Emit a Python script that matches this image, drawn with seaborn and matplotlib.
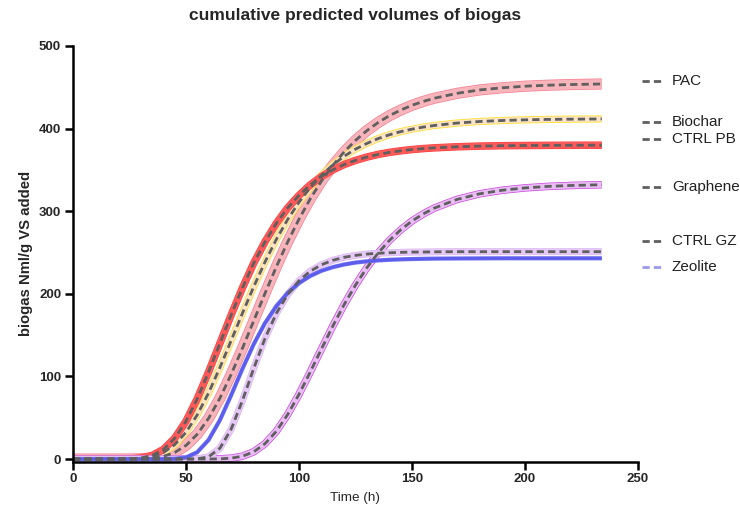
import matplotlib
matplotlib.use("Agg")
import matplotlib.pyplot as plt
from matplotlib.lines import Line2D
import numpy as np
import pandas as pd
import seaborn as sns

# ---------------- data ----------------
time_h = [0, 5, 10, 15, 20, 25, 30, 35, 40, 45, 50, 55, 60, 65, 70, 75, 80, 85, 90, 95,
          100, 105, 110, 115, 120, 125, 130, 135, 140, 145, 150, 155, 160,
          170, 180, 190, 200, 210, 220, 230, 234]

pac = [0, 0, 0, 0, 0.01, 0.05, 0.3, 1.1, 3.2, 7.9, 16.4, 30.0, 49.2, 73.6, 102.5, 134.1, 167.4, 200.7, 232.8, 262.8,
       290.3, 315.0, 336.7, 355.6, 371.8, 385.7, 397.4, 407.3, 415.6, 422.4, 428.2, 432.9, 436.8,
       442.7, 446.8, 449.4, 451.3, 452.5, 453.3, 453.8, 454.0]

biochar = [0, 0, 0, 0, 0.03, 0.2, 0.9, 3.0, 7.9, 17.3, 32.3, 53.5, 80.0, 110.6, 143.4, 176.6, 208.7, 238.7, 266.0, 290.0,
           310.8, 328.6, 343.6, 356.1, 366.5, 375.1, 382.0, 387.9, 392.5, 396.3, 399.3, 401.8, 403.8,
           406.7, 408.6, 409.8, 410.6, 411.1, 411.4, 411.6, 411.7]

ctrl_pb = [0, 0, 0, 0, 0.03, 0.23, 1.2, 4.3, 11.6, 25.1, 45.7, 73.1, 105.3, 139.8, 174.4, 207.2, 237.2, 263.0, 285.4, 304.0,
           319.2, 331.9, 342.0, 350.0, 356.5, 361.5, 365.5, 368.7, 371.2, 373.1, 374.6, 375.8, 376.7,
           378.0, 378.8, 379.3, 379.5, 379.7, 379.8, 379.9, 379.9]

graphene = [0, 0, 0, 0, 0, 0, 0, 0, 0, 0, 0, 0, 0.04, 0.24, 1.06, 3.4, 8.8, 18.6, 33.6, 53.9,
            78.3, 105.4, 133.5, 161.1, 187.0, 210.5, 231.4, 249.3, 264.6, 277.4, 288.1, 296.7, 303.9,
            314.3, 321.1, 325.4, 328.2, 330.0, 331.1, 331.8, 332.0]

ctrl_gz = [0, 0, 0, 0, 0, 0, 0, 0, 0, 0, 0.01, 0.25, 2.7, 13.0, 36.2, 70.8, 109.8, 146.2, 176.3, 199.2,
           215.8, 227.4, 235.3, 240.6, 244.2, 246.5, 248.1, 249.1, 249.7, 250.2, 250.5, 250.6, 250.8,
           251.0, 251.0, 251.0, 251.0, 251.0, 251.0, 251.0, 251.0]

zeolite = [0, 0, 0, 0, 0, 0, 0, 0, 0.01, 0.24, 1.9, 8.3, 23.1, 47.0, 77.3, 109.3, 139.1, 164.7, 185.2, 201.1,
           212.9, 221.6, 227.9, 232.3, 235.5, 237.8, 239.3, 240.4, 241.2, 241.7, 242.1, 242.4, 242.6,
           242.8, 242.9, 243.0, 243.0, 243.0, 243.0, 243.0, 243.0]

series_names = ["PAC", "Biochar", "CTRL PB", "Graphene", "CTRL GZ", "Zeolite"]
series_values = [pac, biochar, ctrl_pb, graphene, ctrl_gz, zeolite]

x_ticks = [0, 50, 100, 150, 200, 250]
y_ticks = [0, 100, 200, 300, 400, 500]

# ---------------- styles ----------------
# (edge colour, edge width, inner colour, inner width)
band_style = {
    "PAC":      ("#f57f92", 8.0, "#f8b4bb", 7.0),
    "Biochar":  ("#ffe23a", 5.2, "#fbe3c6", 4.0),
    "CTRL PB":  ("#ff3b3b", 5.4, "#ff5a5a", 4.6),
    "Graphene": ("#cc44dd", 5.4, "#e9bdf4", 4.4),
    "CTRL GZ":  ("#dcb6f0", 5.0, "#e6c8f6", 4.2),
    "Zeolite":  ("#7474ee", 3.0, "#5c5cee", 2.0),
}
dashed_names = ["PAC", "Biochar", "CTRL PB", "Graphene", "CTRL GZ"]

df = pd.DataFrame({"time": np.tile(time_h, len(series_names)),
                   "value": np.concatenate(series_values),
                   "series": np.repeat(series_names, len(time_h))})

sns.set_theme(style="ticks")
plt.rcParams['font.family'] = ['Liberation Sans', 'DejaVu Sans']

fig = plt.figure(figsize=(7.4, 5.12), dpi=100)
ax = fig.add_axes([0.0986, 0.0986, 0.7635, 0.8116])

for name in series_names:
    sub = df[df["series"] == name]
    ec, ew, ic, iw = band_style[name]
    sns.lineplot(data=sub, x="time", y="value", ax=ax, color=ec, linewidth=ew,
                 estimator=None, sort=False, legend=False, solid_capstyle="butt")
    sns.lineplot(data=sub, x="time", y="value", ax=ax, color=ic, linewidth=iw,
                 estimator=None, sort=False, legend=False, solid_capstyle="butt")

for name in dashed_names:
    sub = df[df["series"] == name]
    sns.lineplot(data=sub, x="time", y="value", ax=ax, color="#5f5f5f", linewidth=2.0,
                 linestyle=(0, (2.6, 1.5)), estimator=None, sort=False, legend=False)

ax.set_xlim(0, 250)
ax.set_ylim(-3, 500)
ax.set_xticks(x_ticks)
ax.set_yticks(y_ticks)
ax.set_xticklabels([str(v) for v in x_ticks], fontweight="bold", fontsize=9.5)
ax.set_yticklabels([str(v) for v in y_ticks], fontweight="bold", fontsize=9.5)
ax.tick_params(direction="out", length=5.5, width=1.8, color="black", pad=3)
for s in ["top", "right"]:
    ax.spines[s].set_visible(False)
for s in ["left", "bottom"]:
    ax.spines[s].set_linewidth(1.8)
    ax.spines[s].set_color("black")
ax.grid(False)

ax.set_xlabel("Time (h)", fontsize=9.7, labelpad=5)
ax.set_ylabel("biogas Nml/g VS added", fontsize=10.7, fontweight="bold", labelpad=4)
fig.text(0.4804, 0.969, "cumulative predicted volumes of biogas", ha="center", va="center",
         fontsize=12.5, fontweight="bold")

# legend at the right, one entry per curve
legend_y_px = [80.7, 122.3, 139.0, 186.7, 241.0, 266.7]
legend_colors = ["#5f5f5f", "#5f5f5f", "#5f5f5f", "#5f5f5f", "#5f5f5f", "#9a9ae8"]
for name, ypx, col in zip(series_names, legend_y_px, legend_colors):
    yf = 1 - ypx / 512
    fig.add_artist(Line2D([642 / 740, 662 / 740], [yf, yf], transform=fig.transFigure,
                          color=col, linewidth=2.0, linestyle=(0, (2.6, 1.5))))
    fig.text(672 / 740, yf, name, ha="left", va="center", fontsize=11, color="#222222")

fig.savefig("out.png", dpi=100, facecolor="white")
